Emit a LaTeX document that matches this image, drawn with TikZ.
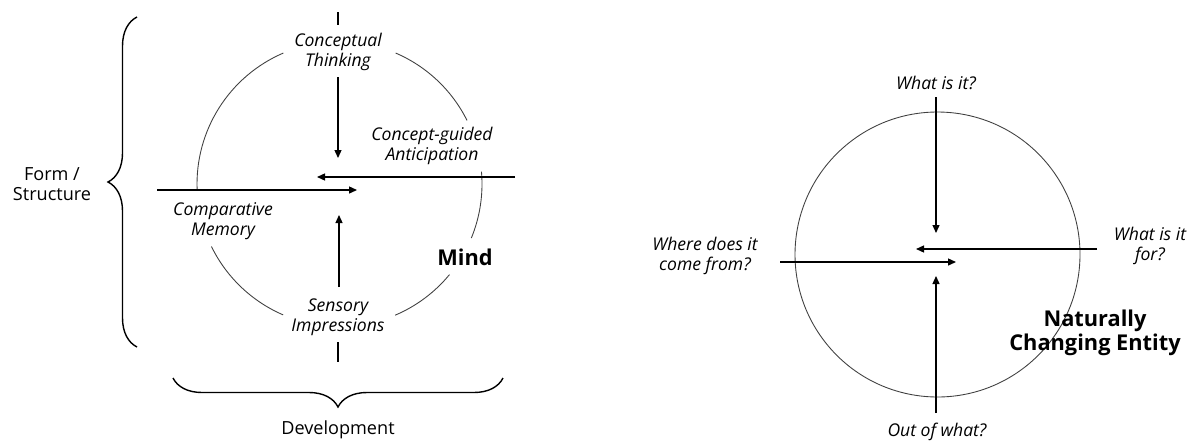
\documentclass[tikz,border=0pt]{standalone}
\usepackage{fontspec}
\setmainfont{Open Sans}
\usetikzlibrary{arrows.meta,decorations.pathreplacing}
\begin{document}
\begin{tikzpicture}[x=0.02cm,y=0.02cm,
  ring/.style={line width=0.5pt,black!75},
  arr/.style={line width=0.75pt,-{Triangle[length=1.6mm,width=1.4mm]}},
  plain/.style={line width=0.75pt},
  lab/.style={font=\fontsize{10}{11.3}\selectfont\itshape,align=center,inner sep=0pt},
  axis/.style={font=\fontsize{10.3}{11.5}\selectfont,align=center,inner sep=0pt},
  big/.style={font=\fontsize{12.4}{13.6}\selectfont\bfseries,align=center,inner sep=0pt},
  brc/.style={line width=0.8pt,decorate,decoration={brace,amplitude=0.58cm}}]
\useasboundingbox (0,0) rectangle (1199,441);
% ---------- left diagram ----------
\coordinate (m) at (339.5,257);
\draw[ring] (m) ++(113.2:142.5) arc[start angle=113.2,end angle=182.4,radius=142.5];
\draw[ring] (m) ++(206:142.5) arc[start angle=206,end angle=246.7,radius=142.5];
\draw[ring] (m) ++(-67:142.5) arc[start angle=-67,end angle=-39.5,radius=142.5];
\draw[ring] (m) ++(-22.3:142.5) arc[start angle=-22.3,end angle=5,radius=142.5];
\draw[ring] (m) ++(26.5:142.5) arc[start angle=26.5,end angle=66.8,radius=142.5];

\node[lab] (ct) at (338,389) {Conceptual\\Thinking};
\node[lab] (ca) at (432,295) {Concept-guided\\Anticipation};
\node[lab] (cm) at (223,220) {Comparative\\Memory};
\node[lab] (si) at (338,124) {Sensory\\Impressions};
\node[big] (mind) at (465,184) {Mind};
\node[axis] (fs) at (52,257) {Form /\\Structure};
\node[axis] (dev) at (338,11) {Development};

\coordinate (t1) at (338,429); \coordinate (t2) at (338,416);
\coordinate (d1) at (338,364); \coordinate (d2) at (338,283);
\coordinate (l1) at (515,264); \coordinate (l2) at (317,264);
\coordinate (r1) at (157,251); \coordinate (r2) at (357,251);
\coordinate (u1) at (339,154); \coordinate (u2) at (339,226);
\coordinate (b1) at (338,99);  \coordinate (b2) at (338,79);
\draw[plain] (t1) -- (t2);
\draw[arr] (d1) -- (d2);
\draw[arr] (l1) -- (l2);
\draw[arr] (r1) -- (r2);
\draw[arr] (u1) -- (u2);
\draw[plain] (b1) -- (b2);

\coordinate (bl1) at (137,94); \coordinate (bl2) at (137,424);
\draw[brc] (bl1) -- (bl2);
\coordinate (bb1) at (503,63); \coordinate (bb2) at (173,63);
\draw[brc] (bb1) -- (bb2);

% ---------- right diagram ----------
\coordinate (n) at (937.5,186.5);
\draw[ring] (n) ++(-49.8:142.5) arc[start angle=-49.8,end angle=340.7,radius=142.5];

\node[lab] (wi) at (936,358) {What is it?};
\node[lab] (ow) at (937,9) {Out of what?};
\node[lab] (wf) at (705,185) {Where does it\\come from?};
\node[lab] (wx) at (1150,195) {What is it\\for?};
\node[big] (nce) at (1095,108) {Naturally\\Changing Entity};

\coordinate (p1) at (936,344); \coordinate (p2) at (936,208);
\coordinate (q1) at (1097,192); \coordinate (q2) at (916,192);
\coordinate (s1) at (780,179); \coordinate (s2) at (956,179);
\coordinate (v1) at (936,28); \coordinate (v2) at (936,165);
\draw[arr] (p1) -- (p2);
\draw[arr] (q1) -- (q2);
\draw[arr] (s1) -- (s2);
\draw[arr] (v1) -- (v2);
\end{tikzpicture}
\end{document}
